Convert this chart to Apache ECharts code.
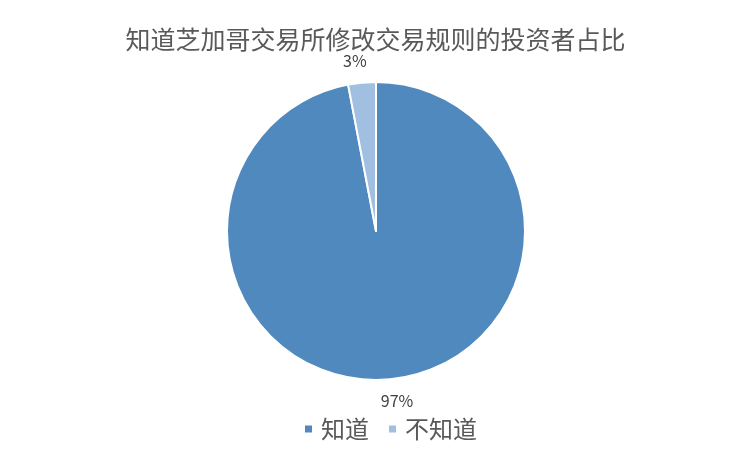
<!DOCTYPE html>
<html lang="zh">
<head>
	<meta charset="UTF-8">
	<title>pie</title>
    <script src="https://cdn.jsdelivr.net/npm/echarts@6/dist/echarts.min.js"></script>
    <style>
        html,body{margin:0;padding:0;background:#fff;}
        .main{width:751px;height:451px;}
    </style>
</head>
<body>
    <div id="main" class="main"></div>
    <script type="text/javascript">
        // 数据
        var titleText = '知道芝加哥交易所修改交易规则的投资者占比';
        var categories = ['知道', '不知道'];
        var values = [97, 3];
        var colors = ['#4f89bd', '#a0bfe1'];

        var pieCenter = [376, 231];
        var myChart = echarts.init(document.getElementById('main'));

        var pieData = [];
        for (var i = 0; i < categories.length; i++) {
            pieData.push({ name: categories[i], value: values[i] });
        }

        var option = {
            animation: false,
            color: colors,
            textStyle: { fontFamily: '"Noto Sans CJK SC", "Noto Sans", sans-serif' },
            title: {
                text: titleText,
                left: 'center',
                top: 22,
                textStyle: { color: '#595959', fontSize: 25, fontWeight: 'normal' }
            },
            legend: {
                bottom: 5,
                left: 298,
                icon: 'rect',
                itemWidth: 9,
                itemHeight: 9,
                itemGap: 18,
                textStyle: { color: '#595959', fontSize: 24, padding: [0, 0, 0, 3] },
                data: categories
            },
            series: [{
                type: 'pie',
                center: pieCenter,
                radius: 149,
                startAngle: 90,
                clockwise: true,
                itemStyle: { borderColor: '#fff', borderWidth: 2 },
                label: {
                    show: true,
                    position: 'outside',
                    formatter: '{d}%',
                    color: '#404040',
                    fontSize: 16
                },
                labelLine: { show: false, length: 22, length2: 0 },
                // 标签以外延点为中心
                labelLayout: function (params) {
                    var r = params.labelRect;
                    var px = (r.x + r.width / 2 > pieCenter[0]) ? r.x : r.x + r.width;
                    return {
                        x: px,
                        y: r.y + r.height / 2,
                        align: 'center',
                        verticalAlign: 'middle'
                    };
                },
                data: pieData
            }]
        };
        myChart.setOption(option);
    </script>
</body>
</html>
